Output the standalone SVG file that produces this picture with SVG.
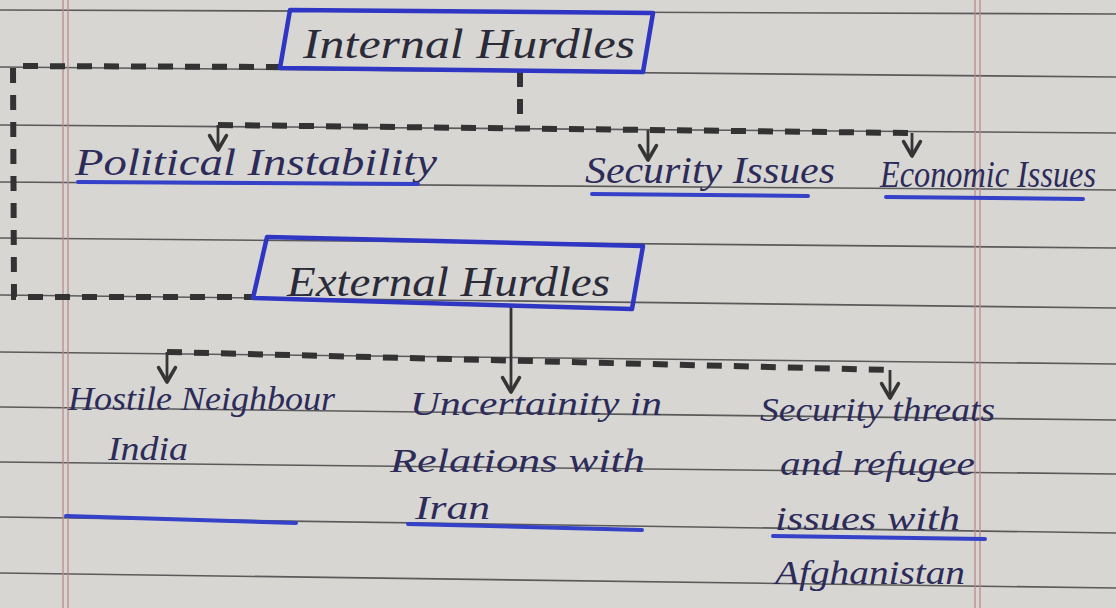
<svg xmlns="http://www.w3.org/2000/svg" width="1116" height="608" viewBox="0 0 1116 608">
<defs>
<style>
.rule{stroke:#5a5a5a;stroke-width:1.6;fill:none}
.margin{stroke:#b98a8a;stroke-width:1.3;fill:none}
.dash{stroke:#333333;stroke-width:6;fill:none;stroke-dasharray:15 12}
.solid{stroke:#353535;stroke-width:2.8;fill:none}
.box{stroke:#2f36c4;stroke-width:4.5;fill:none;stroke-linejoin:round}
.ul{stroke:#3441c8;stroke-width:4;fill:none;stroke-linecap:round}
.head{font-family:"Liberation Serif",serif;font-style:italic;font-size:42px;fill:#2a2a38}
.t1{font-family:"Liberation Serif",serif;font-style:italic;font-size:37px;fill:#2c2b5a}
.t2{font-family:"Liberation Serif",serif;font-style:italic;font-size:33px;fill:#2c2b5a}
</style>
<marker id="ah" markerUnits="userSpaceOnUse" markerWidth="24" markerHeight="24" viewBox="-14 -10 16 20" refX="0" refY="0" orient="auto" overflow="visible">
<path d="M-12,-7 L0,0 L-12,7" fill="none" stroke="#353535" stroke-width="3" stroke-linecap="round" stroke-linejoin="round"/>
</marker>
</defs>
<rect x="0" y="0" width="1116" height="608" fill="#d7d6d3"/>
<g id="paper">
<path class="rule" d="M0,10 L1116,14"/>
<path class="rule" d="M0,67 L1116,77"/>
<path class="rule" d="M0,125 L1116,133"/>
<path class="rule" d="M0,182 L1116,190"/>
<path class="rule" d="M0,238 L1116,248"/>
<path class="rule" d="M0,295 L1116,308"/>
<path class="rule" d="M0,352 L1116,364"/>
<path class="rule" d="M0,407 L1116,420"/>
<path class="rule" d="M0,462 L1116,474"/>
<path class="rule" d="M0,517 L1116,533"/>
<path class="rule" d="M0,573 L1116,588"/>
<path class="margin" d="M63,0 L63,608"/>
<path class="margin" d="M68,0 L68,608"/>
<path class="margin" d="M975,0 L975,608"/>
<path class="margin" d="M980,0 L980,608"/>
</g>
<g id="connectors">
<path class="dash" d="M281,67 L13,66 L14,297 L253,297"/>
<path class="dash" d="M520,72 L520,128"/>
<path class="dash" d="M218,125 L912,133"/>
<path class="solid" d="M218,125 L218,150" marker-end="url(#ah)"/>
<path class="solid" d="M648,130 L648,160" marker-end="url(#ah)"/>
<path class="solid" d="M912,133 L912,156" marker-end="url(#ah)"/>
<path class="solid" d="M511,306 L511,392" marker-end="url(#ah)"/>
<path class="dash" d="M167,352 L890,370"/>
<path class="solid" d="M167,352 L167,382" marker-end="url(#ah)"/>
<path class="solid" d="M890,370 L890,398" marker-end="url(#ah)"/>
</g>
<g id="internal-hurdles">
<path class="box" d="M290,10 L653,13 L643,72 L280,68 Z"/>
<text class="head" x="303" y="58" textLength="332" lengthAdjust="spacingAndGlyphs">Internal Hurdles</text>
</g>
<g id="political-instability">
<text class="t1" x="75" y="175" textLength="362" lengthAdjust="spacingAndGlyphs">Political Instability</text>
<path class="ul" d="M78,182 L418,184"/>
</g>
<g id="security-issues">
<text class="t1" x="585" y="183" textLength="250" lengthAdjust="spacingAndGlyphs">Security Issues</text>
<path class="ul" d="M592,194 L808,196"/>
</g>
<g id="economic-issues">
<text class="t1" x="880" y="187" textLength="216" lengthAdjust="spacingAndGlyphs">Economic Issues</text>
<path class="ul" d="M886,197 L1083,199"/>
</g>
<g id="external-hurdles">
<path class="box" d="M267,237 L643,246 L632,309 L253,298 Z"/>
<text class="head" x="287" y="296" textLength="323" lengthAdjust="spacingAndGlyphs">External Hurdles</text>
</g>
<g id="hostile-neighbour">
<text class="t2" x="68" y="410" textLength="267" lengthAdjust="spacingAndGlyphs">Hostile Neighbour</text>
<text class="t2" x="108" y="460" textLength="80" lengthAdjust="spacingAndGlyphs">India</text>
<path class="ul" d="M66,516 L296,523"/>
</g>
<g id="uncertainity-iran">
<text class="t2" x="410" y="415" textLength="252" lengthAdjust="spacingAndGlyphs">Uncertainity in</text>
<text class="t2" x="390" y="472" textLength="255" lengthAdjust="spacingAndGlyphs">Relations with</text>
<text class="t2" x="415" y="519" textLength="75" lengthAdjust="spacingAndGlyphs">Iran</text>
<path class="ul" d="M408,524 L642,530"/>
</g>
<g id="security-afghanistan">
<text class="t2" x="760" y="421" textLength="235" lengthAdjust="spacingAndGlyphs">Security threats</text>
<text class="t2" x="780" y="475" textLength="195" lengthAdjust="spacingAndGlyphs">and refugee</text>
<text class="t2" x="775" y="530" textLength="185" lengthAdjust="spacingAndGlyphs">issues with</text>
<path class="ul" d="M773,536 L985,539"/>
<text class="t2" x="775" y="584" textLength="190" lengthAdjust="spacingAndGlyphs">Afghanistan</text>
</g>
</svg>
